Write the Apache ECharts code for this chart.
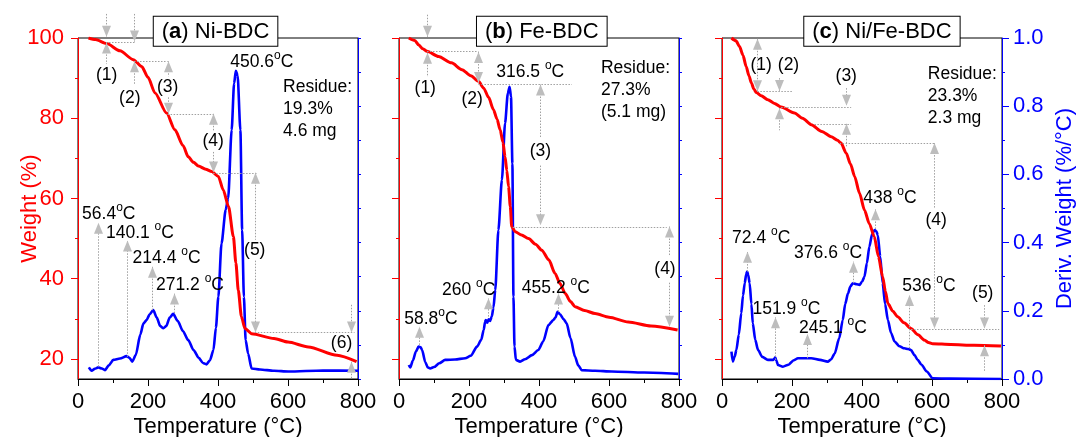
<!DOCTYPE html>
<html>
<head>
<meta charset="utf-8">
<script src="https://cdn.jsdelivr.net/npm/echarts@6/dist/echarts.min.js"></script>
<style>
  html, body { margin: 0; padding: 0; background: #fff; }
  #chart { width: 1078px; height: 437px; }
</style>
</head>
<body>
<div id="chart"></div>
<script>
// TGA weight (%) and DTG (%/°C), [temperature, value]
const tgaNi = [[30,100],[50,99.6],[82,98.6],[120,96.8],[158,94.6],[182,92.9],[200,90.2],[220,86.3],[253,81.3],[277,77.1],[300,73.2],[315,70.4],[330,69],[344,68.1],[365,67.3],[382,66.7],[401,65.5],[415,62.1],[430,58],[444,50.5],[451,44],[458,37.1],[467,30.5],[477,27.6],[496,26.3],[560,25.1],[600,24.2],[658,23],[740,20.9],[796,19.3]];
const dtgNi = [[31,0.034],[39,0.024],[48,0.03],[58,0.034],[68,0.031],[77,0.026],[88,0.04],[101,0.056],[120,0.06],[139,0.067],[147,0.062],[155,0.051],[165,0.07],[178,0.13],[187,0.163],[196,0.173],[205,0.19],[215,0.202],[225,0.18],[235,0.155],[244,0.149],[252,0.155],[262,0.18],[272,0.191],[285,0.17],[300,0.14],[315,0.114],[330,0.085],[345,0.062],[357,0.047],[367,0.043],[377,0.055],[387,0.085],[394,0.15],[401,0.241],[410,0.397],[422,0.496],[429,0.53],[439,0.73],[446,0.867],[451,0.904],[456,0.89],[464,0.73],[469,0.437],[474,0.241],[479,0.114],[486,0.075],[496,0.031],[520,0.028],[560,0.024],[601,0.022],[700,0.025],[800,0.024]];

const tgaFe = [[28,100],[45,99.4],[56,98.3],[68,97.3],[80,96.7],[113,95.4],[150,93.8],[180,92.1],[205,90.6],[227,89.2],[242,87.5],[256,85.2],[270,82.1],[280,79.8],[289,77.1],[297,74],[303,70.4],[308,67],[313,63],[318,58],[322,53],[332,51.7],[350,50.9],[370,50],[390,48.6],[408,47.1],[428,44.7],[446,41.3],[460,38.8],[475,36.3],[490,34.3],[503,33],[530,32.1],[560,31.3],[600,30.4],[655,29.2],[720,28.2],[796,27.2]];
const dtgFe = [[28,0.041],[32,0.034],[40,0.055],[48,0.08],[56,0.095],[62,0.093],[66,0.085],[75,0.05],[82,0.034],[89,0.031],[100,0.035],[115,0.046],[132,0.056],[160,0.057],[189,0.061],[205,0.068],[223,0.095],[235,0.115],[242,0.144],[246,0.168],[248,0.173],[252,0.165],[256,0.175],[260,0.17],[265,0.183],[270,0.21],[275,0.261],[284,0.437],[294,0.584],[303,0.75],[311,0.838],[316,0.857],[320,0.828],[324,0.632],[327,0.241],[330,0.095],[334,0.056],[346,0.051],[360,0.058],[380,0.07],[398,0.085],[412,0.11],[427,0.158],[441,0.173],[447,0.18],[453,0.197],[460,0.19],[470,0.176],[479,0.163],[490,0.12],[503,0.065],[512,0.04],[522,0.026],[560,0.024],[608,0.022],[700,0.019],[798,0.015]];

const tgaNiFe = [[27,100],[40,99.3],[50,97.9],[60,95.7],[69,92.9],[77,90.6],[84,88.8],[91,87.3],[98,86.4],[112,85.6],[131,84.6],[150,83.7],[169,82.8],[207,81.3],[230,80],[255,78.4],[285,76.7],[312,75.4],[330,74.5],[340,73.8],[355,71.3],[367,68.6],[379,65.5],[393,61.3],[407,57.1],[421,53.7],[435,50.5],[447,45.5],[459,40.5],[467,36.8],[474,33.8],[488,31.9],[502,30.5],[520,29],[540,27.6],[560,26],[578,24.7],[590,24.1],[602,23.8],[654,23.6],[720,23.4],[797,23.2]];
const dtgNiFe = [[27,0.08],[31,0.051],[36,0.065],[41,0.085],[48,0.13],[55,0.193],[60,0.245],[65,0.281],[69,0.307],[72,0.315],[75,0.305],[79,0.281],[84,0.22],[88,0.163],[95,0.115],[103,0.085],[115,0.065],[131,0.056],[146,0.056],[150,0.06],[152,0.064],[155,0.055],[160,0.041],[174,0.036],[190,0.042],[205,0.055],[217,0.061],[255,0.061],[280,0.056],[302,0.051],[312,0.058],[322,0.075],[335,0.12],[345,0.173],[352,0.22],[360,0.251],[367,0.272],[374,0.281],[385,0.278],[393,0.276],[400,0.285],[407,0.3],[414,0.34],[421,0.388],[429,0.425],[436,0.437],[441,0.433],[445,0.422],[452,0.36],[459,0.281],[466,0.22],[474,0.173],[483,0.135],[493,0.11],[507,0.096],[521,0.09],[532,0.088],[540,0.085],[550,0.07],[559,0.056],[570,0.042],[585,0.022],[602,0.002],[650,0.001],[797,0]];

const panelTitles = ['({b|a}) Ni-BDC', '({b|b}) Fe-BDC', '({b|c}) Ni/Fe-BDC'];
const weightLabels = [20, 40, 60, 80, 100];
const weightMinor = [30, 50, 70, 90];

// annotations, in data units: 'w' = weight axis, 'd' = derivative axis
// dotted verticals [panel, T, from, to, axis]
const guideV = [
  [0,80,106,100.3,'w'],[0,80,98.9,93.5,'w'],[0,160,106,99.1,'w'],[0,160,94.2,88.3,'w'],
  [0,256,94.2,90.4,'w'],[0,256,85.2,81.1,'w'],[0,386,81.1,76.8,'w'],[0,386,71.6,66.5,'w'],
  [0,505,66.4,49.7,'w'],[0,505,44.5,26.6,'w'],[0,780,33.5,26.6,'w'],[0,780,19.3,15,'w'],
  [0,58,0.036,0.458,'d'],[0,139,0.065,0.406,'d'],[0,212,0.202,0.329,'d'],[0,274,0.193,0.251,'d'],
  [1,80,105.8,100.3,'w'],[1,80,96.3,90.3,'w'],[1,227,96.5,88.8,'w'],[1,404,88.4,75.2,'w'],
  [1,404,68.2,53.3,'w'],[1,770,53,45.6,'w'],[1,770,39,28,'w'],
  [1,56,0.1,0.153,'d'],[1,253,0.183,0.237,'d'],[1,453,0.197,0.251,'d'],
  [2,101,99.8,86.7,'w'],[2,164,90,86.8,'w'],[2,164,82.5,77,'w'],[2,355,87.5,83.1,'w'],
  [2,355,78.6,73,'w'],[2,607,73.8,57.6,'w'],[2,607,51.6,27.6,'w'],[2,749,33.4,27.6,'w'],
  [2,749,23.4,17,'w'],
  [2,72,0.315,0.373,'d'],[2,150,0.056,0.181,'d'],[2,243,0.061,0.132,'d'],[2,374,0.281,0.344,'d'],
  [2,436,0.44,0.4976,'d'],[2,535,0.09,0.246,'d']
];
// dotted horizontals [panel, weight, fromT, toT]
const guideH = [
  [0,98.9,80,163],[0,94.2,160,256],[0,81.1,256,386],[0,66.45,386,510],[0,26.6,505,790],
  [1,96.65,80,227],[1,88.6,227,494],[1,53,325,765],
  [2,86.7,101,203],[2,82.8,169,369],[2,78.5,264,369],[2,73.9,336,607],[2,27.4,540,792]
];
// arrow heads [panel, T, tip, dir (1 up, -1 down), axis]
const arrowHeads = [
  [0,80,100.3,-1,'w'],[0,80,98.9,1,'w'],[0,160,99.1,-1,'w'],[0,160,94.2,1,'w'],
  [0,256,94.2,1,'w'],[0,256,81.1,-1,'w'],[0,386,81.1,1,'w'],[0,386,66.5,-1,'w'],
  [0,505,66.4,1,'w'],[0,505,26.6,-1,'w'],[0,780,26.6,-1,'w'],[0,780,19.3,1,'w'],
  [0,58,0.458,1,'d'],[0,139,0.406,1,'d'],[0,212,0.329,1,'d'],[0,274,0.251,1,'d'],
  [1,80,100.3,-1,'w'],[1,80,96.3,1,'w'],[1,227,96.5,1,'w'],[1,227,88.8,-1,'w'],
  [1,404,88.4,1,'w'],[1,404,53.3,-1,'w'],[1,770,53,1,'w'],[1,770,28,-1,'w'],
  [1,56,0.153,1,'d'],[1,253,0.237,1,'d'],[1,453,0.251,1,'d'],
  [2,101,99.8,1,'w'],[2,101,86.7,-1,'w'],[2,164,86.8,-1,'w'],[2,164,82.5,1,'w'],
  [2,355,83.1,-1,'w'],[2,355,78.6,1,'w'],[2,607,73.8,1,'w'],[2,607,27.6,-1,'w'],
  [2,749,27.6,-1,'w'],[2,749,23.4,1,'w'],
  [2,72,0.373,1,'d'],[2,150,0.181,1,'d'],[2,243,0.132,1,'d'],[2,374,0.344,1,'d'],
  [2,436,0.4976,1,'d'],[2,535,0.246,1,'d']
];
// labels [panel, T, value, text, axis]
const notes = [
  [0,82,90.8,'(1)','w'],[0,148,85,'(2)','w'],[0,256,87.8,'(3)','w'],[0,386,74.2,'(4)','w'],
  [0,505,47.1,'(5)','w'],[0,753,24,'(6)','w'],
  [0,88,0.484,'56.4{o|o}C','d'],[0,177,0.429,'140.1 {o|o}C','d'],[0,253,0.354,'214.4 {o|o}C','d'],
  [0,320,0.276,'271.2 {o|o}C','d'],[0,525,0.929,'450.6{o|o}C','d'],
  [1,75,87.5,'(1)','w'],[1,209,84.8,'(2)','w'],[1,404,71.7,'(3)','w'],[1,760,42.3,'(4)','w'],
  [1,91,0.176,'58.8{o|o}C','d'],[1,199,0.261,'260 {o|o}C','d'],[1,448,0.267,'455.2 {o|o}C','d'],
  [1,375,0.899,'316.5 {o|o}C','d'],
  [2,112,93.3,'(1)','w'],[2,190,93.3,'(2)','w'],[2,355,90.4,'(3)','w'],[2,612,54.6,'(4)','w'],
  [2,745,36.3,'(5)','w'],
  [2,112,0.4125,'72.4 {o|o}C','d'],[2,184,0.204,'151.9 {o|o}C','d'],[2,317,0.15,'245.1 {o|o}C','d'],
  [2,303,0.37,'376.6 {o|o}C','d'],[2,480,0.53,'438 {o|o}C','d'],[2,591,0.271,'536 {o|o}C','d']
];
// residue blocks [panel, left T, middle weight, text]
const residues = [
  [0,586,82.3,'Residue:\n19.3%\n4.6 mg'],
  [1,577,86.9,'Residue:\n27.3%\n(5.1 mg)'],
  [2,588,85.4,'Residue:\n23.3%\n2.3 mg']
];
// title box centres [panel, T, weight]
const titlePos = [[0,393,101.7],[1,408,101.7],[2,457,101.7]];

const FONT = 'Arial, "Liberation Sans", sans-serif';
const RED = '#ff0000';
const BLUE = '#0000ff';

const chart = echarts.init(document.getElementById('chart'));

const grids = [
  { left: 78, right: 720, top: 38, bottom: 58 },
  { left: 399, right: 399, top: 38, bottom: 58 },
  { left: 722, right: 76, top: 38, bottom: 58 }
].map(g => Object.assign(g, {
  show: true, borderColor: '#000', borderWidth: 1, backgroundColor: 'transparent',
  containLabel: false, outerBoundsMode: 'none'
}));

const xAxes = [0, 1, 2].map(i => ({
  gridIndex: i, type: 'value', min: 0, max: 800, interval: 200,
  name: 'Temperature (°C)', nameLocation: 'middle', nameGap: 37, nameMoveOverlap: false,
  nameTextStyle: { fontSize: 22, color: '#000', fontFamily: FONT },
  axisLine: { onZero: false, lineStyle: { color: '#000', width: 1 } },
  axisTick: { length: 7, lineStyle: { color: '#000' } },
  minorTick: { show: true, splitNumber: 2, length: 4, lineStyle: { color: '#000' } },
  axisLabel: { fontSize: 22, color: '#000', fontFamily: FONT, margin: 12 },
  splitLine: { show: false }
}));

const yAxes = [];
[0, 1, 2].forEach(i => {
  yAxes.push({
    gridIndex: i, type: 'value', min: 15, max: 100, position: 'left',
    name: i === 0 ? 'Weight (%)' : '', nameLocation: 'middle', nameGap: 37, nameMoveOverlap: false,
    nameTextStyle: { fontSize: 22, color: RED, fontFamily: FONT },
    axisLine: { show: true, onZero: false, lineStyle: { color: RED, width: 1 } },
    axisTick: { show: true, length: 7, customValues: weightLabels, lineStyle: { color: RED } },
    axisLabel: { show: i === 0, customValues: weightLabels, fontSize: 22, color: RED, fontFamily: FONT, margin: 14 },
    splitLine: { show: false }
  });
  yAxes.push({
    gridIndex: i, type: 'value', min: 15, max: 100, position: 'left',
    axisLine: { show: false },
    axisTick: { show: true, length: 3, customValues: weightMinor, lineStyle: { color: RED } },
    axisLabel: { show: false },
    splitLine: { show: false }
  });
  const last = i === 2;
  yAxes.push({
    gridIndex: i, type: 'value', min: 0, max: 1, interval: last ? 0.2 : 0.1, position: 'right',
    name: last ? 'Deriv. Weight (%/°C)' : '', nameLocation: 'middle', nameGap: 52, nameMoveOverlap: false,
    nameTextStyle: { fontSize: 22, color: BLUE, fontFamily: FONT },
    axisLine: { show: true, onZero: false, lineStyle: { color: BLUE, width: 1 } },
    axisTick: { show: true, length: last ? 7 : 3, lineStyle: { color: BLUE } },
    minorTick: { show: last, splitNumber: 2, length: 3, lineStyle: { color: BLUE } },
    axisLabel: { show: last, fontSize: 22, color: BLUE, fontFamily: FONT, margin: 11, formatter: v => v.toFixed(1) },
    splitLine: { show: false }
  });
});

function curve(data, p, blue) {
  return {
    type: 'line', xAxisIndex: p, yAxisIndex: blue ? 3 * p + 2 : 3 * p,
    data: data, showSymbol: false, smooth: 0.25, smoothMonotone: 'x',
    lineStyle: { color: blue ? BLUE : RED, width: blue ? 2.6 : 3 },
    itemStyle: { color: blue ? BLUE : RED },
    z: blue ? 2 : 3, silent: true
  };
}

chart.setOption({
  animation: false,
  grid: grids,
  xAxis: xAxes,
  yAxis: yAxes,
  series: [
    curve(dtgNi, 0, true), curve(tgaNi, 0, false),
    curve(dtgFe, 1, true), curve(tgaFe, 1, false),
    curve(dtgNiFe, 2, true), curve(tgaNiFe, 2, false)
  ]
});

function pt(p, t, v, ax) {
  return chart.convertToPixel({ xAxisIndex: p, yAxisIndex: ax === 'd' ? 3 * p + 2 : 3 * p }, [t, v]);
}
const GUIDE = '#a0a0a0';
const HEAD = '#bdbdbd';
const els = [];

guideV.forEach(([p, t, a, b, ax]) => {
  const p1 = pt(p, t, a, ax), p2 = pt(p, t, b, ax);
  const x = Math.round(p1[0]) + 0.5;
  els.push({ type: 'line', z: 20, silent: true,
    shape: { x1: x, y1: p1[1], x2: x, y2: p2[1] },
    style: { stroke: GUIDE, lineWidth: 1, lineDash: [1.5, 1.5] } });
});
guideH.forEach(([p, w, a, b]) => {
  const p1 = pt(p, a, w, 'w'), p2 = pt(p, b, w, 'w');
  const y = Math.round(p1[1]) + 0.5;
  els.push({ type: 'line', z: 20, silent: true,
    shape: { x1: p1[0], y1: y, x2: p2[0], y2: y },
    style: { stroke: GUIDE, lineWidth: 1, lineDash: [1.5, 1.5] } });
});
arrowHeads.forEach(([p, t, v, dir, ax]) => {
  const c = pt(p, t, v, ax);
  const x = Math.round(c[0]) + 0.5, y = c[1];
  const base = y + dir * 11;
  els.push({ type: 'polygon', z: 21, silent: true,
    shape: { points: [[x, y], [x - 4.5, base], [x + 4.5, base]] },
    style: { fill: HEAD } });
});
// raised small "o" used as the degree mark
const sup = { o: { fontSize: 12, fill: '#000', fontFamily: FONT, padding: [0, 0, 13, 0] } };
notes.forEach(([p, t, v, text, ax]) => {
  const c = pt(p, t, v, ax);
  els.push({ type: 'text', z: 22, silent: true, x: c[0], y: c[1],
    style: { legacy: false, text: text, fill: '#000', fontSize: 17.5, fontFamily: FONT,
      align: 'center', verticalAlign: 'middle', rich: sup } });
});
residues.forEach(([p, t, w, text]) => {
  const c = pt(p, t, w, 'w');
  els.push({ type: 'text', z: 22, silent: true, x: c[0], y: c[1],
    style: { legacy: false, text: text, fill: '#000', fontSize: 17.5, fontFamily: FONT,
      lineHeight: 22, align: 'left', verticalAlign: 'middle' } });
});
titlePos.forEach(([p, t, w], i) => {
  const c = pt(p, t, w, 'w');
  els.push({ type: 'text', z: 30, silent: true, x: c[0], y: c[1],
    style: { legacy: false, text: panelTitles[i], fill: '#000', fontSize: 22, fontFamily: FONT,
      align: 'center', verticalAlign: 'middle', padding: [4, 8, 3, 8],
      backgroundColor: '#fff', borderColor: '#000', borderWidth: 1,
      rich: { b: { fontWeight: 'bold', fontSize: 22, fontFamily: FONT, fill: '#000' } } } });
});

chart.setOption({ graphic: { elements: els } });
</script>
</body>
</html>
